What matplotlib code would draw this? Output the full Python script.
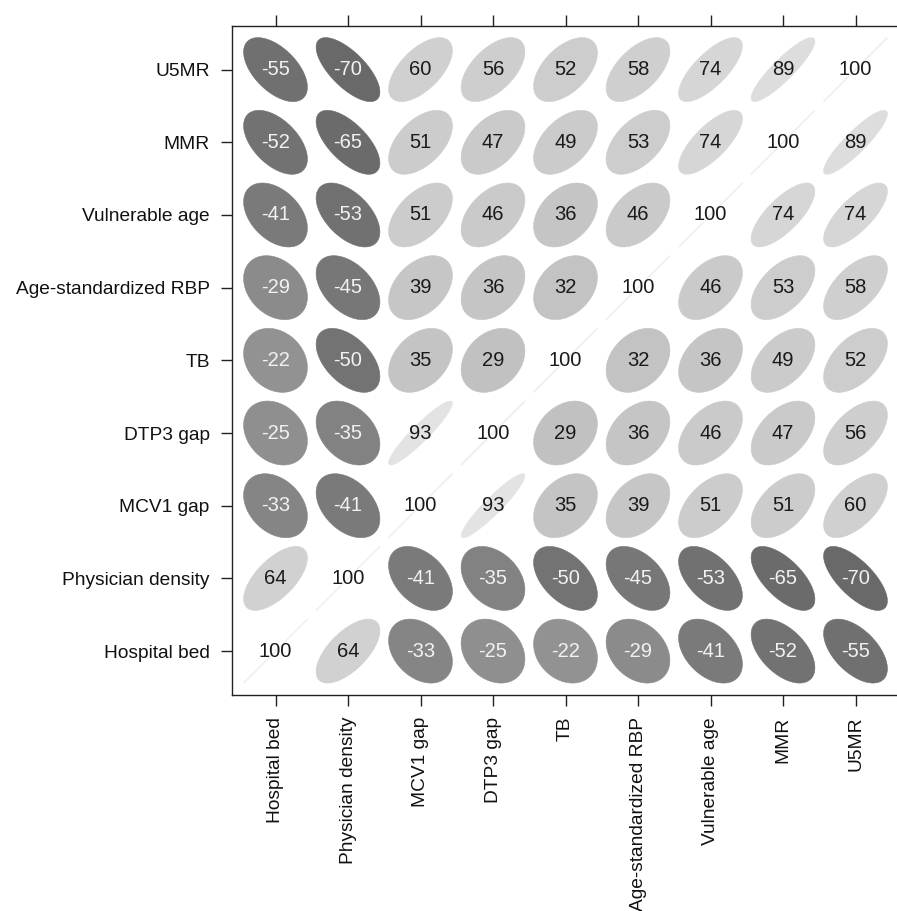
import numpy as np
import matplotlib
matplotlib.use("Agg")
import matplotlib.pyplot as plt
from matplotlib.patches import Polygon

variables = ["Hospital bed", "Physician density", "MCV1 gap", "DTP3 gap", "TB",
             "Age-standardized RBP", "Vulnerable age", "MMR", "U5MR"]

# correlation (x100), one row per variable, columns in the same order as `variables`
hospital_bed      = [100,  64, -33, -25, -22, -29, -41, -52, -55]
physician_density = [ 64, 100, -41, -35, -50, -45, -53, -65, -70]
mcv1_gap          = [-33, -41, 100,  93,  35,  39,  51,  51,  60]
dtp3_gap          = [-25, -35,  93, 100,  29,  36,  46,  47,  56]
tb                = [-22, -50,  35,  29, 100,  32,  36,  49,  52]
age_std_rbp       = [-29, -45,  39,  36,  32, 100,  46,  53,  58]
vulnerable_age    = [-41, -53,  51,  46,  36,  46, 100,  74,  74]
mmr               = [-52, -65,  51,  47,  49,  53,  74, 100,  89]
u5mr              = [-55, -70,  60,  56,  52,  58,  74,  89, 100]

rows = [hospital_bed, physician_density, mcv1_gap, dtp3_gap, tb,
        age_std_rbp, vulnerable_age, mmr, u5mr]

plt.rcParams['font.family'] = ['Liberation Sans', 'DejaVu Sans']

W, H = 897, 911
fig = plt.figure(figsize=(W / 100, H / 100), dpi=100)
left_px, right_px, top_px, bottom_px = 232, 899, 26, 694.7
ax = fig.add_axes([left_px / W, (H - bottom_px) / H,
                   (right_px - left_px) / W, (bottom_px - top_px) / H])
n = len(variables)
ax.set_xlim(0.4, n + 0.6)
ax.set_ylim(0.4, n + 0.6)


def gray_of(r):
    rs = [-1.0, -0.7, -0.5, -0.4, -0.3, -0.2, 0.0, 0.3, 0.5, 0.7, 0.9, 1.0]
    gs = [0.38, 0.41, 0.45, 0.48, 0.54, 0.58, 0.68, 0.76, 0.80, 0.83, 0.87, 0.94]
    g = float(np.interp(r, rs, gs))
    return (g, g, g)


theta = np.linspace(0, 2 * np.pi, 200)
s = 0.44
for i, row in enumerate(rows):          # i -> y position (row)
    for j, val in enumerate(row):       # j -> x position (column)
        r = val / 100.0
        d = np.arccos(np.clip(r, -1, 1))
        ex = (j + 1) + s * np.cos(theta + d / 2)
        ey = (i + 1) + s * np.cos(theta - d / 2)
        col = gray_of(r)
        lw = 1.0 if val == 100 else 0.4
        ax.add_patch(Polygon(np.column_stack([ex, ey]), closed=True,
                             facecolor=col, edgecolor=col, linewidth=lw))
        tcol = '#f2f2f2' if val < 0 else '#1a1a1a'
        ax.text(j + 1, i + 1, str(val), ha='center', va='center',
                fontsize=14.5, color=tcol)

ticks = np.arange(1, n + 1)
ax.set_xticks(ticks)
ax.set_yticks(ticks)
ax.set_xticklabels(variables, rotation=90, fontsize=13.8)
ax.set_yticklabels(variables, fontsize=13.8)
ax.tick_params(axis='both', length=8, width=1.0, color='#222222',
               labelcolor='#111111', pad=8.0, top=True, right=False,
               labeltop=False, labelright=False)
for sp in ax.spines.values():
    sp.set_linewidth(1.0)
    sp.set_color('#222222')
ax.spines['right'].set_visible(False)

fig.savefig("out.png", dpi=100, facecolor='white')
